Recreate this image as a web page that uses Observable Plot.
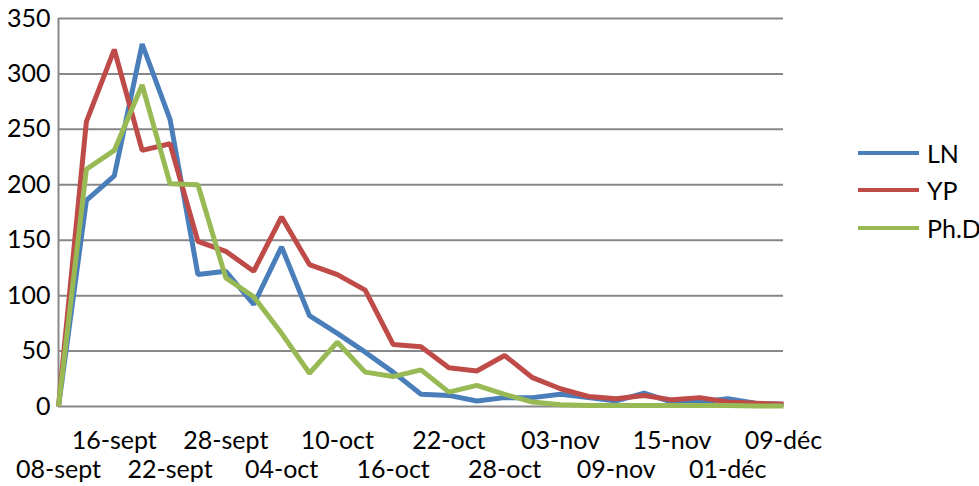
<!DOCTYPE html>
<html>
<head>
<meta charset="utf-8">
<script src="https://cdn.jsdelivr.net/npm/d3@7"></script>
<script src="https://cdn.jsdelivr.net/npm/@observablehq/plot@0.6"></script>
<style>
  body { margin: 0; background: #fff; font-family: Lato, sans-serif; }
  #wrap { position: relative; width: 979px; height: 486px; }
  .item { position: absolute; left: 858px; height: 30px; display: flex; align-items: center; font-size: 25px; color: #000; }
  .sw { width: 61px; height: 4px; margin-right: 8px; }
</style>
</head>
<body>
<div id="wrap"></div>
<script>
// Categories (x axis): 27 dates, every other one labelled
const categories = ["08-sept","12-sept","16-sept","19-sept","22-sept","25-sept","28-sept","01-oct","04-oct","07-oct","10-oct","13-oct","16-oct","19-oct","22-oct","25-oct","28-oct","31-oct","03-nov","06-nov","09-nov","12-nov","15-nov","23-nov","01-déc","05-déc","09-déc"];
const seriesNames = ["LN", "YP", "Ph.D"];
const colors = ["#4A7EBB", "#BE4B48", "#98B954"];
const LN  = [0,186,208,327,259,119,122,92,144,82,66,49,31,11,10,5,8,8,11,8,5,12,4,4,7,3,2];
const YP  = [0,257,322,231,237,149,140,122,171,128,119,105,56,54,35,32,46,26,16,9,7,10,6,8,4,3,2];
const PhD = [0,214,231,290,201,200,116,99,66,30,58,31,27,33,13,19,11,4,1.5,1,1,1,1,1,1,0.5,0.5];
const yTicks = [0,50,100,150,200,250,300,350];
const labelledTicks = categories.filter((d, i) => i % 2 === 0);
const upperTicks = labelledTicks.filter((d, i) => i % 2 === 1);
const lowerTicks = labelledTicks.filter((d, i) => i % 2 === 0);

const values = [LN, YP, PhD];
const data = [];
seriesNames.forEach((s, k) => values[k].forEach((v, i) => data.push({series: s, date: categories[i], value: v})));

const chart = Plot.plot({
  width: 979,
  height: 486,
  marginLeft: 58,
  marginRight: 196,
  marginTop: 18,
  marginBottom: 80,
  style: {fontFamily: "Lato, sans-serif", fontSize: "25px", color: "#000", background: "#fff", overflow: "visible"},
  x: {type: "point", domain: categories, padding: 0, round: false, label: null},
  y: {domain: [0, 350], label: null},
  color: {domain: seriesNames, range: colors},
  marks: [
    Plot.gridY({ticks: yTicks, stroke: "#878787", strokeOpacity: 1, strokeWidth: 2}),
    Plot.ruleX([categories[0]], {stroke: "#878787", strokeWidth: 2}),
    Plot.axisY({ticks: yTicks, tickSize: 0, tickPadding: 8, fontSize: 25, label: null}),
    Plot.axisX({ticks: upperTicks, tickSize: 0, tickPadding: 25, fontSize: 25, label: null}),
    Plot.axisX({ticks: lowerTicks, tickSize: 0, tickPadding: 54, fontSize: 25, label: null}),
    Plot.line(data, {x: "date", y: "value", z: "series", stroke: "series", strokeWidth: 5, strokeLinejoin: "miter", strokeLinecap: "butt"})
  ]
});
const wrap = document.getElementById("wrap");
wrap.appendChild(chart);

const legendY = [153, 190, 228];
seriesNames.forEach((s, k) => {
  const it = document.createElement("div");
  it.className = "item";
  it.style.top = (legendY[k] - 15) + "px";
  const sw = document.createElement("div");
  sw.className = "sw";
  sw.style.background = colors[k];
  const tx = document.createElement("span");
  tx.textContent = s;
  it.appendChild(sw);
  it.appendChild(tx);
  wrap.appendChild(it);
});
</script>
</body>
</html>
